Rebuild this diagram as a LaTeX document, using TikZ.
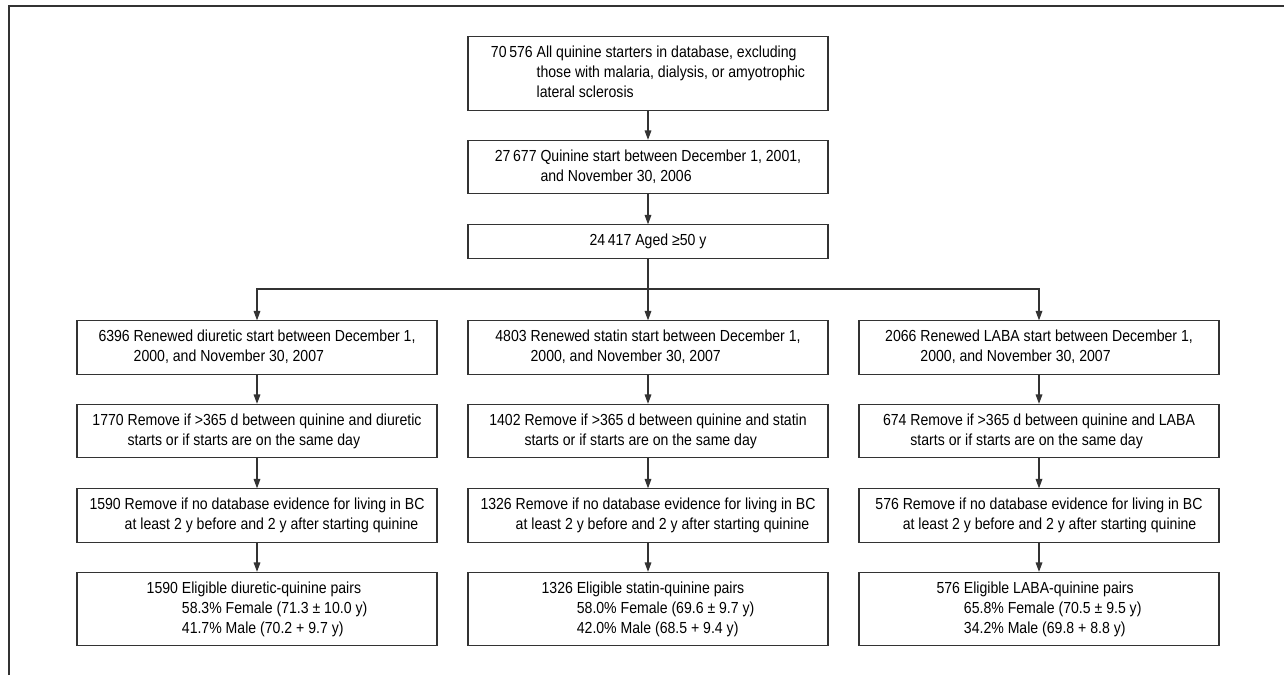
\documentclass[tikz,border=0pt]{standalone}
\usepackage{fontspec}
\setmainfont{Liberation Sans}[FakeStretch=0.88]
\usetikzlibrary{arrows.meta}
\newcommand{\boxlines}[1]{\raisebox{-2pt}{\begin{tabular}{@{}l@{ }l@{}}#1\end{tabular}}}

\begin{document}
\begin{tikzpicture}[x=0.75pt,y=-0.75pt,
  box/.style={draw=linegray,line width=0.8pt,minimum width=270pt,inner xsep=4pt,inner ysep=5pt,font=\fontsize{12}{15}\selectfont},
  arr/.style={draw=linegray,line width=0.8pt,-{Triangle[length=7pt,width=5pt]}}]
\definecolor{linegray}{HTML}{333333}
\useasboundingbox (0,0) rectangle (1284,675);
\draw[linegray,line width=1.5pt] (9,675) -- (9,5.5) -- (1284,5.5);
% selection steps
\node[box] (all) at (648,73.5) {\boxlines{70\,576 & All quinine starters in database, excluding\\ & those with malaria, dialysis, or amyotrophic\\ & lateral sclerosis}};
\node[box] (period) at (648,167) {\boxlines{27\,677 & Quinine start between December 1, 2001,\\ & and November 30, 2006}};
\node[box] (aged) at (648,241.5) {\boxlines{24\,417 & Aged ≥50 y}};
\coordinate (split) at (648,289);
\draw[arr] (all) -- (period);
\draw[arr] (period) -- (aged);
% one column per drug
  \foreach \c/\x/\drug/\nr/\ng/\nb/\fp/\fa/\mp/\ma in {
    1/257/diuretic/6396/1770/1590/58.3/{71.3 ± 10.0}/41.7/{70.2 + 9.7},
    2/648/statin/4803/1402/1326/58.0/{69.6 ± 9.7}/42.0/{68.5 + 9.4},
    3/1039/LABA/2066/674/576/65.8/{70.5 ± 9.5}/34.2/{69.8 + 8.8}}
  { \node[box] (renew-\c) at (\x,347.5) {\boxlines{\nr & Renewed \drug\ start between December 1,\\ & 2000, and November 30, 2007}};
    \node[box] (gap-\c) at (\x,431) {\boxlines{\ng & Remove if >365 d between quinine and \drug\\ & starts or if starts are on the same day}};
    \node[box] (bc-\c) at (\x,515.5) {\boxlines{\nb & Remove if no database evidence for living in BC\\ & at least 2 y before and 2 y after starting quinine}};
    \node[box] (pairs-\c) at (\x,609) {\boxlines{\nb & Eligible \drug-quinine pairs\\ & \fp\% Female (\fa\ y)\\ & \mp\% Male (\ma\ y)}};
    \draw[arr] (renew-\c) -- (gap-\c);
    \draw[arr] (gap-\c) -- (bc-\c);
    \draw[arr] (bc-\c) -- (pairs-\c);}
\draw[arr] (aged) -- (renew-2);
\draw[arr] (split) -| (renew-1);
\draw[arr] (split) -| (renew-3);
\end{tikzpicture}
\end{document}
